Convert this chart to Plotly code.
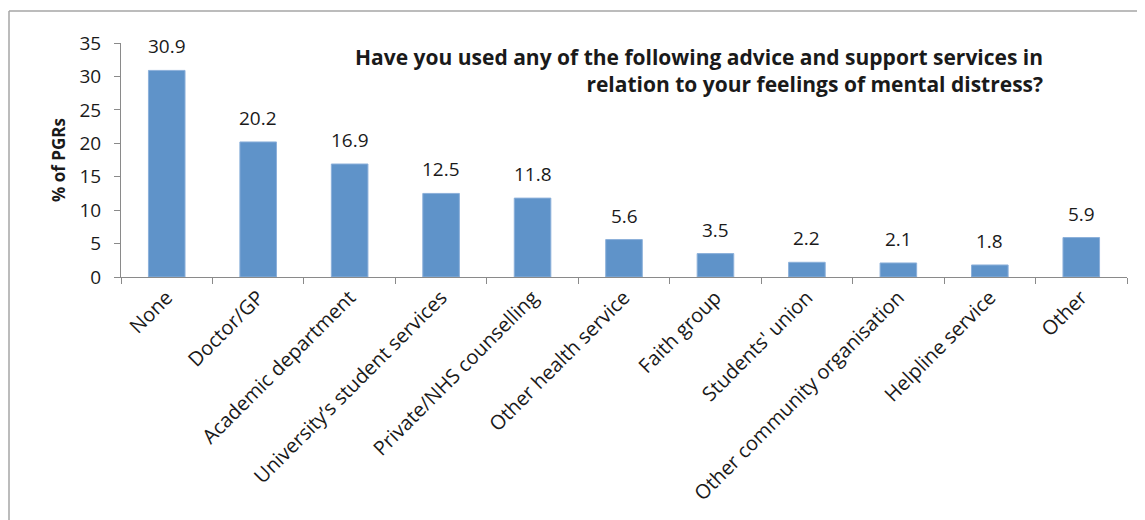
import plotly.graph_objects as go

categories = ["None", "Doctor/GP", "Academic department", "University\u2019s student services",
              "Private/NHS counselling", "Other health service", "Faith group", "Students' union",
              "Other community organisation", "Helpline service", "Other"]
values = [30.9, 20.2, 16.9, 12.5, 11.8, 5.6, 3.5, 2.2, 2.1, 1.8, 5.9]
y_ticks = [0, 5, 10, 15, 20, 25, 30, 35]
title_lines = ["Have you used any of the following advice and support services in",
               "relation to your feelings of mental distress?"]

FONT = "'Open Sans', Lato, sans-serif"
OFF = 8                      # page body margin
W, H = 1145 - OFF, 520 - OFF
# plot area in page pixels
PL, PR, PT, PB = 121, 1127, 43, 277
L, R, T, B = PL - OFF, PR - OFF, PT - OFF, PB - OFF

def px_x(p):
    return (p - OFF - L) / (R - L)

def px_y(p):
    return (B - (p - OFF)) / (B - T)

TXT = "#1a1a1a"
AX = "#8a8a8a"

fig = go.Figure(go.Bar(
    x=categories, y=values,
    marker=dict(color="#5F93C9", line=dict(color="#8CB0DA", width=1)),
    hoverinfo="x+y",
))

label_annotations = [
    dict(x=c, y=v, xref="x", yref="y", text=f"{v:.1f}", showarrow=False,
         yanchor="bottom", yshift=9, font=dict(family=FONT, size=19, color=TXT))
    for c, v in zip(categories, values)
]

fig.update_layout(
    width=W, height=H,
    margin=dict(l=L, r=W - R, t=T, b=H - B, autoexpand=False),
    paper_bgcolor="white", plot_bgcolor="white",
    bargap=0.6, showlegend=False,
    font=dict(family=FONT, color=TXT),
    xaxis=dict(
        tickangle=-45, tickfont=dict(family=FONT, size=20, color=TXT),
        showline=True, linecolor=AX, linewidth=1,
        ticks="outside", ticklen=6, tickcolor=AX, tickson="boundaries",
        showgrid=False, fixedrange=True,
    ),
    yaxis=dict(
        range=[0, 35], tickvals=y_ticks,
        tickfont=dict(family=FONT, size=19, color=TXT),
        showline=True, linecolor=AX, linewidth=1,
        ticks="outside", ticklen=6, tickcolor=AX, ticklabelstandoff=9,
        showgrid=False, zeroline=False, fixedrange=True,
        title=dict(text="<b>% of PGRs</b>", font=dict(family=FONT, size=17, color=TXT), standoff=9),
    ),
    annotations=label_annotations + [dict(
        text="<b>" + "<br>".join(title_lines) + "</b>",
        xref="paper", yref="paper", x=px_x(1045), y=px_y(41),
        xanchor="right", yanchor="top", align="right", showarrow=False,
        font=dict(family=FONT, size=21, color=TXT),
    )],
    shapes=[
        dict(type="line", xref="paper", yref="paper", x0=px_x(9), x1=px_x(1145), y0=px_y(11), y1=px_y(11),
             line=dict(color="#a6a6a6", width=1.5)),
        dict(type="line", xref="paper", yref="paper", x0=px_x(9), x1=px_x(9), y0=px_y(11), y1=px_y(520),
             line=dict(color="#a6a6a6", width=1.5)),
    ],
)

fig.write_html("out.html")
